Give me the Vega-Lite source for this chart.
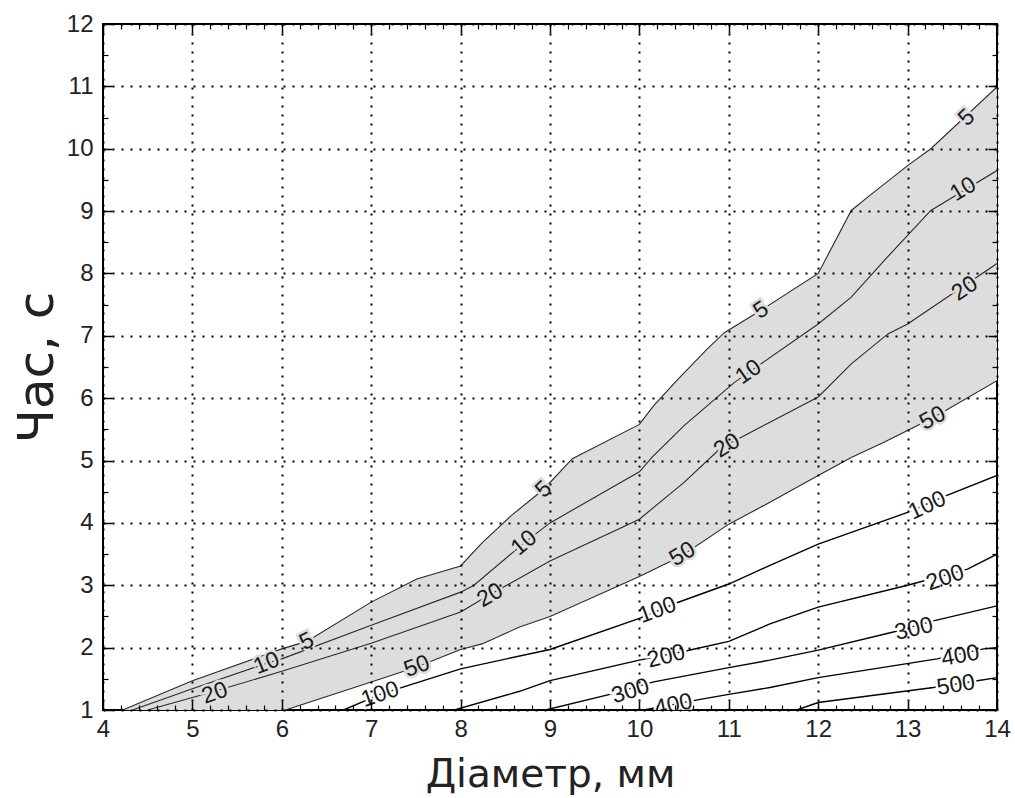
{
  "$schema": "https://vega.github.io/schema/vega-lite/v6.json",
  "width": 894,
  "height": 686,
  "autosize": {"type": "none"},
  "padding": {"left": 103, "top": 24, "right": 18, "bottom": 88},
  "background": "#ffffff",
  "config": {
    "view": {"stroke": "#000000", "strokeWidth": 2},
    "axis": {"domain": false, "labelOverlap": false, "labelFlush": false}
  },
  "datasets": {
    "band": [
      {"x": 4.22, "top": 1.0, "bottom": 1.0},
      {"x": 5.0, "top": 1.47, "bottom": 1.0},
      {"x": 6.0, "top": 1.98, "bottom": 1.0},
      {"x": 6.04, "top": 2.01, "bottom": 1.0},
      {"x": 6.28, "top": 2.1, "bottom": 1.11},
      {"x": 7.0, "top": 2.73, "bottom": 1.45},
      {"x": 7.51, "top": 3.1, "bottom": 1.69},
      {"x": 8.0, "top": 3.31, "bottom": 1.97},
      {"x": 8.24, "top": 3.68, "bottom": 2.06},
      {"x": 8.56, "top": 4.11, "bottom": 2.27},
      {"x": 8.66, "top": 4.23, "bottom": 2.33},
      {"x": 8.93, "top": 4.54, "bottom": 2.47},
      {"x": 9.0, "top": 4.65, "bottom": 2.5},
      {"x": 9.25, "top": 5.03, "bottom": 2.67},
      {"x": 10.0, "top": 5.58, "bottom": 3.14},
      {"x": 10.16, "top": 5.88, "bottom": 3.25},
      {"x": 10.43, "top": 6.3, "bottom": 3.44},
      {"x": 10.47, "top": 6.36, "bottom": 3.47},
      {"x": 10.76, "top": 6.79, "bottom": 3.75},
      {"x": 10.95, "top": 7.05, "bottom": 3.93},
      {"x": 11.0, "top": 7.09, "bottom": 3.98},
      {"x": 11.36, "top": 7.41, "bottom": 4.25},
      {"x": 11.46, "top": 7.5, "bottom": 4.33},
      {"x": 12.0, "top": 8.0, "bottom": 4.76},
      {"x": 12.37, "top": 9.01, "bottom": 5.05},
      {"x": 12.55, "top": 9.22, "bottom": 5.17},
      {"x": 12.73, "top": 9.42, "bottom": 5.29},
      {"x": 13.0, "top": 9.73, "bottom": 5.48},
      {"x": 13.26, "top": 10.0, "bottom": 5.67},
      {"x": 13.3, "top": 10.05, "bottom": 5.7},
      {"x": 14.0, "top": 10.99, "bottom": 6.28}
    ],
    "contours": [
      {"level": 5, "x": 4.22, "y": 1.0}, {"level": 5, "x": 5.0, "y": 1.47}, {"level": 5, "x": 6.0, "y": 1.98},
      {"level": 5, "x": 6.28, "y": 2.1}, {"level": 5, "x": 7.0, "y": 2.73}, {"level": 5, "x": 7.51, "y": 3.1},
      {"level": 5, "x": 8.0, "y": 3.31}, {"level": 5, "x": 8.24, "y": 3.68}, {"level": 5, "x": 8.56, "y": 4.11},
      {"level": 5, "x": 8.93, "y": 4.54}, {"level": 5, "x": 9.25, "y": 5.03}, {"level": 5, "x": 10.0, "y": 5.58},
      {"level": 5, "x": 10.16, "y": 5.88}, {"level": 5, "x": 10.43, "y": 6.3}, {"level": 5, "x": 10.76, "y": 6.79},
      {"level": 5, "x": 10.95, "y": 7.05}, {"level": 5, "x": 11.36, "y": 7.41}, {"level": 5, "x": 12.0, "y": 8.0},
      {"level": 5, "x": 12.37, "y": 9.01}, {"level": 5, "x": 12.55, "y": 9.22}, {"level": 5, "x": 13.0, "y": 9.73},
      {"level": 5, "x": 13.26, "y": 10.0}, {"level": 5, "x": 14.0, "y": 10.99},
      {"level": 10, "x": 4.33, "y": 1.0}, {"level": 10, "x": 5.0, "y": 1.34}, {"level": 10, "x": 5.83, "y": 1.75},
      {"level": 10, "x": 6.0, "y": 1.82}, {"level": 10, "x": 7.0, "y": 2.36}, {"level": 10, "x": 8.0, "y": 2.89},
      {"level": 10, "x": 8.15, "y": 3.0}, {"level": 10, "x": 8.71, "y": 3.68}, {"level": 10, "x": 9.0, "y": 4.0},
      {"level": 10, "x": 10.0, "y": 4.82}, {"level": 10, "x": 10.14, "y": 5.05}, {"level": 10, "x": 10.5, "y": 5.56},
      {"level": 10, "x": 11.06, "y": 6.25}, {"level": 10, "x": 12.0, "y": 7.19}, {"level": 10, "x": 12.37, "y": 7.62},
      {"level": 10, "x": 12.74, "y": 8.21}, {"level": 10, "x": 13.0, "y": 8.61}, {"level": 10, "x": 13.26, "y": 9.01},
      {"level": 10, "x": 14.0, "y": 9.65},
      {"level": 20, "x": 4.5, "y": 1.0}, {"level": 20, "x": 5.25, "y": 1.3}, {"level": 20, "x": 6.0, "y": 1.62},
      {"level": 20, "x": 7.0, "y": 2.07}, {"level": 20, "x": 8.0, "y": 2.57}, {"level": 20, "x": 8.22, "y": 2.76},
      {"level": 20, "x": 9.0, "y": 3.39}, {"level": 20, "x": 10.0, "y": 4.06}, {"level": 20, "x": 10.5, "y": 4.65},
      {"level": 20, "x": 10.91, "y": 5.2}, {"level": 20, "x": 12.0, "y": 6.02}, {"level": 20, "x": 12.37, "y": 6.55},
      {"level": 20, "x": 12.78, "y": 7.03}, {"level": 20, "x": 13.0, "y": 7.19}, {"level": 20, "x": 14.0, "y": 8.16},
      {"level": 50, "x": 6.04, "y": 1.0}, {"level": 50, "x": 7.0, "y": 1.45}, {"level": 50, "x": 7.51, "y": 1.69},
      {"level": 50, "x": 8.0, "y": 1.97}, {"level": 50, "x": 8.24, "y": 2.06}, {"level": 50, "x": 8.66, "y": 2.33},
      {"level": 50, "x": 9.0, "y": 2.5}, {"level": 50, "x": 10.0, "y": 3.14}, {"level": 50, "x": 10.47, "y": 3.47},
      {"level": 50, "x": 11.0, "y": 3.98}, {"level": 50, "x": 11.46, "y": 4.33}, {"level": 50, "x": 12.0, "y": 4.76},
      {"level": 50, "x": 12.37, "y": 5.05}, {"level": 50, "x": 12.73, "y": 5.29}, {"level": 50, "x": 13.3, "y": 5.7},
      {"level": 50, "x": 14.0, "y": 6.28},
      {"level": 100, "x": 6.69, "y": 1.0}, {"level": 100, "x": 7.1, "y": 1.25}, {"level": 100, "x": 8.0, "y": 1.66},
      {"level": 100, "x": 9.0, "y": 1.97}, {"level": 100, "x": 10.0, "y": 2.47}, {"level": 100, "x": 10.42, "y": 2.72},
      {"level": 100, "x": 11.0, "y": 3.02}, {"level": 100, "x": 11.46, "y": 3.32}, {"level": 100, "x": 12.0, "y": 3.66},
      {"level": 100, "x": 13.0, "y": 4.17}, {"level": 100, "x": 13.44, "y": 4.44}, {"level": 100, "x": 14.0, "y": 4.76},
      {"level": 200, "x": 7.93, "y": 1.0}, {"level": 200, "x": 8.66, "y": 1.3}, {"level": 200, "x": 9.0, "y": 1.47},
      {"level": 200, "x": 10.0, "y": 1.8}, {"level": 200, "x": 10.53, "y": 1.95}, {"level": 200, "x": 11.0, "y": 2.1},
      {"level": 200, "x": 11.46, "y": 2.38}, {"level": 200, "x": 12.0, "y": 2.65}, {"level": 200, "x": 13.0, "y": 3.0},
      {"level": 200, "x": 13.67, "y": 3.26}, {"level": 200, "x": 14.0, "y": 3.5},
      {"level": 300, "x": 8.95, "y": 1.0}, {"level": 300, "x": 9.67, "y": 1.25}, {"level": 300, "x": 10.16, "y": 1.45},
      {"level": 300, "x": 11.0, "y": 1.68}, {"level": 300, "x": 11.46, "y": 1.8}, {"level": 300, "x": 12.0, "y": 1.96},
      {"level": 300, "x": 12.84, "y": 2.25}, {"level": 300, "x": 13.29, "y": 2.43}, {"level": 300, "x": 14.0, "y": 2.67},
      {"level": 400, "x": 10.05, "y": 1.0}, {"level": 400, "x": 10.68, "y": 1.17}, {"level": 400, "x": 11.0, "y": 1.25},
      {"level": 400, "x": 11.46, "y": 1.36}, {"level": 400, "x": 12.0, "y": 1.52}, {"level": 400, "x": 13.33, "y": 1.82},
      {"level": 400, "x": 13.85, "y": 1.98}, {"level": 400, "x": 14.0, "y": 2.0},
      {"level": 500, "x": 11.76, "y": 1.0}, {"level": 500, "x": 12.0, "y": 1.12}, {"level": 500, "x": 13.29, "y": 1.36},
      {"level": 500, "x": 13.78, "y": 1.47}, {"level": 500, "x": 14.0, "y": 1.52}
    ],
    "labels": [
      {"label": "5", "x": 6.28, "y": 2.1, "angle": -27, "zone": "in"},
      {"label": "5", "x": 8.93, "y": 4.54, "angle": -43, "zone": "in"},
      {"label": "5", "x": 11.36, "y": 7.41, "angle": -33, "zone": "in"},
      {"label": "5", "x": 13.66, "y": 10.5, "angle": -43, "zone": "in"},
      {"label": "10", "x": 5.83, "y": 1.75, "angle": -22, "zone": "in"},
      {"label": "10", "x": 8.71, "y": 3.68, "angle": -40, "zone": "in"},
      {"label": "10", "x": 11.22, "y": 6.42, "angle": -35, "zone": "in"},
      {"label": "10", "x": 13.62, "y": 9.35, "angle": -31, "zone": "in"},
      {"label": "20", "x": 5.25, "y": 1.27, "angle": -20, "zone": "in"},
      {"label": "20", "x": 8.33, "y": 2.84, "angle": -30, "zone": "in"},
      {"label": "20", "x": 10.98, "y": 5.24, "angle": -32, "zone": "in"},
      {"label": "20", "x": 13.64, "y": 7.76, "angle": -34, "zone": "in"},
      {"label": "50", "x": 7.51, "y": 1.7, "angle": -20, "zone": "in"},
      {"label": "50", "x": 10.48, "y": 3.5, "angle": -31, "zone": "in"},
      {"label": "50", "x": 13.28, "y": 5.68, "angle": -28, "zone": "in"},
      {"label": "100", "x": 7.1, "y": 1.25, "angle": -19, "zone": "out"},
      {"label": "100", "x": 10.2, "y": 2.6, "angle": -20, "zone": "out"},
      {"label": "100", "x": 13.22, "y": 4.28, "angle": -25, "zone": "out"},
      {"label": "200", "x": 10.3, "y": 1.86, "angle": -14, "zone": "out"},
      {"label": "200", "x": 13.42, "y": 3.12, "angle": -19, "zone": "out"},
      {"label": "300", "x": 9.9, "y": 1.3, "angle": -17, "zone": "out"},
      {"label": "300", "x": 13.07, "y": 2.3, "angle": -13, "zone": "out"},
      {"label": "400", "x": 10.38, "y": 1.08, "angle": -12, "zone": "out"},
      {"label": "400", "x": 13.59, "y": 1.87, "angle": -10, "zone": "out"},
      {"label": "500", "x": 13.54, "y": 1.4, "angle": -9, "zone": "out"}
    ]
  },
  "resolve": {"axis": {"x": "independent", "y": "independent"}},
  "layer": [
    {
      "data": {"name": "band"},
      "mark": {"type": "area", "color": "#dddddd", "clip": true},
      "encoding": {
        "x": {"field": "x", "type": "quantitative",
          "scale": {"domain": [4, 14], "nice": false, "zero": false},
          "axis": {"orient": "bottom", "values": [4,5,6,7,8,9,10,11,12,13,14], "ticks": false, "grid": true,
            "gridColor": "#000000", "gridDash": [2, 7], "gridWidth": 2, "gridOpacity": 1, "zindex": 1,
            "labelFont": "Liberation Sans", "labelFontSize": 24, "labelColor": "#222222", "labelPadding": 7,
            "title": "Діаметр, мм", "titleFont": "DejaVu Sans", "titleFontSize": 39, "titleFontWeight": "normal",
            "titleColor": "#222222", "titlePadding": 14, "format": "d"}},
        "y": {"field": "top", "type": "quantitative",
          "scale": {"domain": [1, 12], "nice": false, "zero": false},
          "axis": {"orient": "left", "values": [1,2,3,4,5,6,7,8,9,10,11,12], "ticks": false, "grid": true,
            "gridColor": "#000000", "gridDash": [2, 7], "gridWidth": 2, "gridOpacity": 1, "zindex": 1,
            "labelFont": "Liberation Sans", "labelFontSize": 24, "labelColor": "#222222", "labelPadding": 10,
            "title": "Час, с", "titleFont": "DejaVu Sans", "titleFontSize": 50, "titleFontWeight": "normal",
            "titleColor": "#222222", "titlePadding": 4, "format": "d"}},
        "y2": {"field": "bottom"}
      }
    },
    {
      "data": {"name": "contours"},
      "transform": [{"filter": "datum.level <= 50"}],
      "mark": {"type": "line", "color": "#2a2a2a", "strokeWidth": 1.1, "clip": true},
      "encoding": {
        "x": {"field": "x", "type": "quantitative", "scale": {"domain": [4, 14], "nice": false, "zero": false},
          "axis": {"orient": "bottom", "values": [4,5,6,7,8,9,10,11,12,13,14], "labels": false, "grid": false,
            "ticks": true, "tickSize": -9, "tickWidth": 1.5, "tickColor": "#000000", "title": null, "zindex": 1}},
        "y": {"field": "y", "type": "quantitative", "scale": {"domain": [1, 12], "nice": false, "zero": false},
          "axis": {"orient": "left", "values": [1,2,3,4,5,6,7,8,9,10,11,12], "labels": false, "grid": false,
            "ticks": true, "tickSize": -9, "tickWidth": 1.5, "tickColor": "#000000", "title": null, "zindex": 1}},
        "detail": {"field": "level", "type": "nominal"}
      }
    },
    {
      "data": {"name": "contours"},
      "transform": [{"filter": "datum.level >= 100"}],
      "mark": {"type": "line", "color": "#000000", "strokeWidth": 1.4, "clip": true},
      "encoding": {
        "x": {"field": "x", "type": "quantitative", "scale": {"domain": [4, 14], "nice": false, "zero": false},
          "axis": {"orient": "top", "values": [4,5,6,7,8,9,10,11,12,13,14], "labels": false, "grid": false,
            "ticks": true, "tickSize": -9, "tickWidth": 1.5, "tickColor": "#000000", "title": null, "zindex": 1}},
        "y": {"field": "y", "type": "quantitative", "scale": {"domain": [1, 12], "nice": false, "zero": false},
          "axis": {"orient": "right", "values": [1,2,3,4,5,6,7,8,9,10,11,12], "labels": false, "grid": false,
            "ticks": true, "tickSize": -9, "tickWidth": 1.5, "tickColor": "#000000", "title": null, "zindex": 1}},
        "detail": {"field": "level", "type": "nominal"}
      }
    },
    {
      "data": {"name": "labels"},
      "mark": {"type": "text", "font": "Liberation Sans", "fontSize": 23, "align": "center", "baseline": "middle",
        "strokeWidth": 5, "clip": true},
      "encoding": {
        "x": {"field": "x", "type": "quantitative", "scale": {"domain": [4, 14], "nice": false, "zero": false},
          "axis": {"orient": "bottom",
            "values": [4.2,4.4,4.6,4.8,5.2,5.4,5.6,5.8,6.2,6.4,6.6,6.8,7.2,7.4,7.6,7.8,8.2,8.4,8.6,8.8,9.2,9.4,9.6,9.8,10.2,10.4,10.6,10.8,11.2,11.4,11.6,11.8,12.2,12.4,12.6,12.8,13.2,13.4,13.6,13.8],
            "labels": false, "grid": false, "ticks": true, "tickSize": -5, "tickWidth": 1.2, "tickColor": "#000000",
            "title": null, "zindex": 1}},
        "y": {"field": "y", "type": "quantitative", "scale": {"domain": [1, 12], "nice": false, "zero": false},
          "axis": {"orient": "left", "values": [1.5,2.5,3.5,4.5,5.5,6.5,7.5,8.5,9.5,10.5,11.5],
            "labels": false, "grid": false, "ticks": true, "tickSize": -5, "tickWidth": 1.2, "tickColor": "#000000",
            "title": null, "zindex": 1}},
        "text": {"field": "label"},
        "angle": {"field": "angle", "type": "quantitative", "scale": null},
        "stroke": {"field": "zone", "type": "nominal", "scale": {"domain": ["in", "out"], "range": ["#dddddd", "#ffffff"]}, "legend": null},
        "fill": {"field": "zone", "type": "nominal", "scale": {"domain": ["in", "out"], "range": ["#dddddd", "#ffffff"]}, "legend": null}
      }
    },
    {
      "data": {"name": "labels"},
      "mark": {"type": "text", "font": "Liberation Sans", "fontSize": 23, "align": "center", "baseline": "middle",
        "color": "#1a1a1a", "clip": true},
      "encoding": {
        "x": {"field": "x", "type": "quantitative", "scale": {"domain": [4, 14], "nice": false, "zero": false},
          "axis": {"orient": "top",
            "values": [4.2,4.4,4.6,4.8,5.2,5.4,5.6,5.8,6.2,6.4,6.6,6.8,7.2,7.4,7.6,7.8,8.2,8.4,8.6,8.8,9.2,9.4,9.6,9.8,10.2,10.4,10.6,10.8,11.2,11.4,11.6,11.8,12.2,12.4,12.6,12.8,13.2,13.4,13.6,13.8],
            "labels": false, "grid": false, "ticks": true, "tickSize": -5, "tickWidth": 1.2, "tickColor": "#000000",
            "title": null, "zindex": 1}},
        "y": {"field": "y", "type": "quantitative", "scale": {"domain": [1, 12], "nice": false, "zero": false},
          "axis": {"orient": "right", "values": [1.5,2.5,3.5,4.5,5.5,6.5,7.5,8.5,9.5,10.5,11.5],
            "labels": false, "grid": false, "ticks": true, "tickSize": -5, "tickWidth": 1.2, "tickColor": "#000000",
            "title": null, "zindex": 1}},
        "text": {"field": "label"},
        "angle": {"field": "angle", "type": "quantitative", "scale": null}
      }
    }
  ]
}
